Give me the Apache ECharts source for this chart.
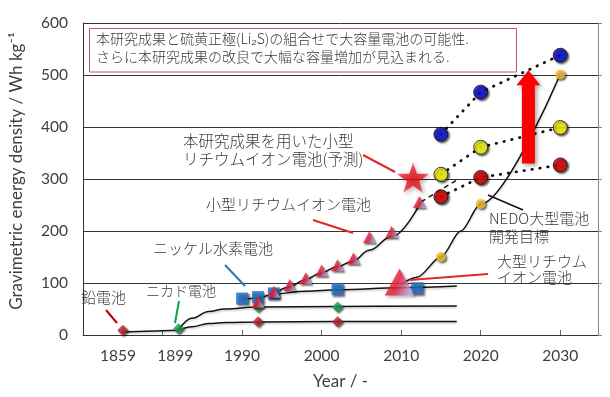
<!DOCTYPE html>
<html><head><meta charset="utf-8">
<script src="https://cdn.jsdelivr.net/npm/echarts@6/dist/echarts.min.js"></script>
<style>html,body{margin:0;padding:0;background:#fff}#c{width:610px;height:397px}</style>
</head><body><div id="c"></div>
<script>
// ---- tick labels (positions on the compressed year axis) ----
const xLabelValues = [1974.4, 1981.6, 1990, 2000, 2010, 2020, 2030];
const xLabelTexts  = ['1859', '1899', '1990', '2000', '2010', '2020', '2030'];
const xTickValues  = [1980, 1990, 2000, 2010, 2020, 2030];

// ---- markers [year-position, Wh/kg] ----
const leadPts   = [[1975, 9], [1992, 25.5], [2002, 25.5]];          // 鉛電池 (1859 at 1975 slot)
const nicdPts   = [[1982, 12], [1992, 54], [2002, 54]];             // ニカド電池 (1899 at 1982 slot)
const nimhPts   = [[1990, 70], [1992, 73], [1994, 80], [2002, 88], [2012, 90]];
const libPts    = [[1992, 64], [1994, 83], [1996, 96], [1998, 109], [2000, 124], [2002, 134], [2004, 147], [2006, 188], [2008.8, 198], [2012.3, 256]];
const largeLib  = [[2009.8, 102]];
const starPts   = [[2011.5, 303]];
const bluePts   = [[2015, 386], [2020, 467], [2030, 538]];
const yellowPts = [[2015, 309], [2020, 361], [2030, 399]];
const redPts    = [[2015, 266], [2020, 303], [2030, 327]];
const nedoPts   = [[2015, 150], [2020, 252], [2030, 501]];

// ---- trend curves ----
const leadBase  = [[1975, 6], [1982, 9]];
const leadCurve = [[1982, 9], [1983.7, 16], [1985.8, 22], [1988, 24], [1992, 25], [2002, 26], [2017, 26]];
const nicdCurve = [[1982, 10], [1983.7, 32], [1985.8, 45], [1987.8, 50], [1992, 54], [2002, 55], [2017, 56]];
const nimhCurve = [[1990, 68], [1992, 71], [1994, 79], [1998, 84], [2002, 87], [2010, 91], [2017, 94]];
const libCurve  = [[1994, 77], [1995.8, 92], [1997.9, 106], [1999.8, 118.5], [2001.9, 131], [2003.9, 142], [2006, 163], [2008.75, 189], [2012.5, 256]];
const libDash   = [[2012.5, 256], [2017, 298]];
const nedoCurve = [[2010, 98], [2012, 111], [2015, 150], [2017.5, 200], [2020, 252], [2030, 501]];

// ---- arrow (year, from, to) ----
const arrowYear = 2026, arrowFrom = 330, arrowTo = 509;

const chart = echarts.init(document.getElementById('c'));
const latin = 'Lato, "Noto Sans", sans-serif';
const mkShadow = {shadowColor: 'rgba(0,0,0,0.75)', shadowBlur: 2, shadowOffsetX: 1.5, shadowOffsetY: 1.5};
const curve = (data, extra) => Object.assign({
  type: 'line', data, symbol: 'none', smooth: 0.4, smoothMonotone: 'x', z: 2, silent: true,
  lineStyle: {color: '#111', width: 1.5, shadowColor: 'rgba(0,0,0,0.22)', shadowBlur: 2, shadowOffsetY: 1.5}
}, extra || {});
const dots = (data) => ({
  type: 'line', data, symbol: 'none', z: 2, silent: true,
  lineStyle: {color: '#111', width: 2.8, type: [0.5, 7.5], cap: 'round'}
});
const marks = (data, symbol, size, color, extra) => Object.assign({
  type: 'scatter', data, symbol, symbolSize: size, z: 4, silent: true,
  itemStyle: Object.assign({color}, mkShadow)
}, extra || {});
const triGrad = {type: 'linear', x: 0, y: 0, x2: 1, y2: 0.3, colorStops: [
  {offset: 0, color: '#e8101e'}, {offset: 0.55, color: '#e8203a'}, {offset: 1, color: '#c8a6dc'}]};
const starPath = 'path://M50,0 L61,35 L98,35 L68,57 L79,91 L50,70 L21,91 L32,57 L2,35 L39,35 Z';

chart.setOption({
  animation: false,
  grid: {left: 80, right: 12, top: 23, bottom: 62},
  xAxis: {
    type: 'value', min: 1970, max: 2034.75,
    axisLine: {lineStyle: {color: '#333', width: 1}},
    axisTick: {inside: true, length: 5, lineStyle: {color: '#666'}, customValues: xTickValues},
    axisLabel: {customValues: xLabelValues, margin: 13, fontSize: 15.5, color: '#404040', fontFamily: latin,
      formatter: v => { const i = xLabelValues.findIndex(a => Math.abs(a - v) < 0.01); return i >= 0 ? xLabelTexts[i] : ''; }},
    splitLine: {show: false},
    name: 'Year / -', nameLocation: 'middle', nameGap: 38,
    nameTextStyle: {fontSize: 17, color: '#404040', fontFamily: latin}
  },
  yAxis: [{
    type: 'value', min: 0, max: 600, interval: 100,
    axisLine: {show: true, lineStyle: {color: '#333'}},
    axisTick: {show: false},
    axisLabel: {fontSize: 15.5, color: '#404040', fontFamily: latin, margin: 15},
    splitLine: {lineStyle: {color: '#333', width: 1}},
    name: 'Gravimetric energy density / Wh kg⁻¹', nameLocation: 'middle', nameGap: 58,
    nameTextStyle: {fontSize: 17, color: '#404040', fontFamily: latin, padding: [0, 0, 0, 16]}
  }, {
    type: 'value', min: 0, max: 600, interval: 100, position: 'right',
    axisLine: {show: true, lineStyle: {color: '#888'}},
    axisTick: {show: true, inside: false, length: 4, lineStyle: {color: '#888'}},
    axisLabel: {show: false}, splitLine: {show: false}
  }],
  series: [
    curve(leadBase, {smooth: false}),
    curve(leadCurve), curve(nicdCurve), curve(nimhCurve), curve(libCurve),
    curve(libDash, {smooth: false, lineStyle: {color: '#111', width: 1.5, type: [5, 4]}}),
    curve(nedoCurve, {smooth: 0.3}),
    dots(bluePts), dots(yellowPts), dots(redPts),
    marks(leadPts, 'diamond', 11, '#c0262c'),
    marks(nicdPts, 'diamond', 11, '#20a050'),
    marks(libPts, 'triangle', [13, 12], triGrad, {z: 5}),
    marks(nimhPts, 'rect', 12, '#2272c8'),
    marks(largeLib, 'triangle', [30, 27], triGrad, {z: 5, itemStyle: {color: triGrad, shadowColor: 'rgba(0,0,0,0.35)', shadowBlur: 3, shadowOffsetX: 2, shadowOffsetY: 2}}),
    marks(starPts, starPath, [33, 31], '#e81020',
      {z: 6, itemStyle: {color: {type: 'radial', x: 0.5, y: 0.55, r: 0.6, colorStops: [
      {offset: 0, color: '#e00010'}, {offset: 0.6, color: '#ee1a2a'}, {offset: 1, color: '#ff9aaa'}]},
      shadowColor: 'rgba(0,0,0,0.35)', shadowBlur: 4, shadowOffsetX: 2, shadowOffsetY: 2}}),
    marks(bluePts, 'circle', 14, '#0a10d8', {itemStyle: Object.assign({color: '#0a10d8', borderColor: '#111', borderWidth: 1}, mkShadow)}),
    marks(yellowPts, 'circle', 14, '#ffff10', {itemStyle: Object.assign({color: '#ffff10', borderColor: '#111', borderWidth: 1}, mkShadow)}),
    marks(redPts, 'circle', 14, '#e00000', {itemStyle: Object.assign({color: '#e00000', borderColor: '#111', borderWidth: 1}, mkShadow)}),
    marks(nedoPts, 'circle', 10, '#f4c030', {z: 5})
  ]
});

// annotation layer
const base = chart.convertToPixel({gridIndex: 0}, [arrowYear, arrowFrom]);
const tip = chart.convertToPixel({gridIndex: 0}, [arrowYear, arrowTo]);
const ax = base[0], sw = 6.5, hw = 12, hh = 15;
const txt = (x, y, s, size) => ({type: 'text', left: x, top: y - (size || 15) * 0.72, z: 20,
  style: {text: s, fill: '#3a3a3a', font: '300 ' + (size || 15) + 'px "Noto Sans CJK JP", sans-serif'}});
const seg = (x1, y1, x2, y2, color, w) => ({type: 'line', z: 20, shape: {x1, y1, x2, y2},
  style: {stroke: color, lineWidth: w || 2}});

chart.setOption({graphic: [
  {type: 'rect', z: 20, shape: {x: 89.5, y: 28.5, width: 427, height: 43.5},
    style: {fill: '#fff', stroke: '#b85c5c', lineWidth: 1}},
  txt(96, 41.5, '本研究成果と硫黄正極(Li₂S)の組合せで大容量電池の可能性.', 14),
  txt(96, 60, 'さらに本研究成果の改良で大幅な容量増加が見込まれる.', 14),
  {type: 'polygon', z: 19, shape: {points: [
    [ax - sw, base[1]], [ax - sw, tip[1] + hh], [ax - hw, tip[1] + hh], [ax, tip[1]],
    [ax + hw, tip[1] + hh], [ax + sw, tip[1] + hh], [ax + sw, base[1]]]},
    style: {fill: '#ff0000', shadowColor: 'rgba(0,0,0,0.35)', shadowBlur: 4, shadowOffsetX: 2, shadowOffsetY: 2}},
  txt(183, 145, '本研究成果を用いた小型', 15.5),
  txt(183, 162.5, 'リチウムイオン電池(予測)', 15.5),
  seg(363, 155, 395, 172, '#e02828'),
  txt(206, 208, '小型リチウムイオン電池', 15),
  seg(313, 220, 353, 233, '#e02828'),
  txt(153, 251.5, 'ニッケル水素電池', 15),
  seg(225, 265, 245, 286, '#2e75b6'),
  txt(81, 300.5, '鉛電池', 15),
  seg(106, 310, 117, 323, '#c00000'),
  txt(146, 294, 'ニカド電池', 14),
  seg(179, 301, 175, 323, '#10a050'),
  txt(489, 222, 'NEDO大型電池', 15),
  txt(489, 239.5, '開発目標', 15),
  seg(488, 195, 523, 210, '#111', 1.5),
  txt(497, 264.5, '大型リチウム', 15),
  txt(497, 280.5, 'イオン電池', 15),
  seg(488, 274, 410, 280, '#e02828')
]});
</script></body></html>
